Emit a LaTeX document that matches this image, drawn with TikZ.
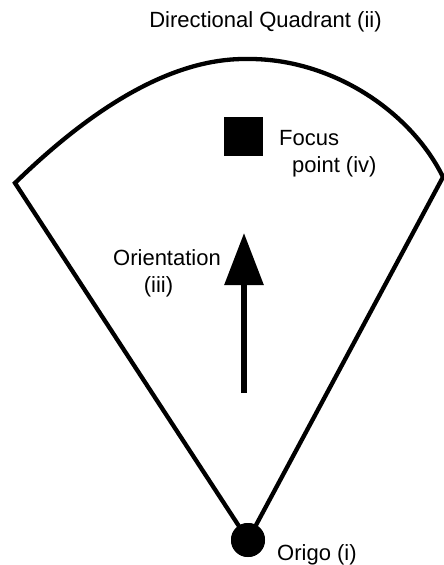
\documentclass[tikz,border=0pt]{standalone}
\usepackage{fontspec}
\setmainfont{Liberation Sans}
\usetikzlibrary{arrows.meta}
\begin{document}
\begin{tikzpicture}[x=1pt,y=-1pt,
  outline/.style={line width=4.3pt, line join=miter},
  lbl/.style={font=\fontsize{22}{26}\selectfont, inner sep=0pt},
  dot/.style={circle, fill=black, minimum size=34pt, inner sep=0pt},
  sq/.style={rectangle, fill=black, minimum size=39pt, inner sep=0pt}]
\useasboundingbox (0,0) rectangle (444,565);
% sector
\coordinate (L) at (15,183);
\coordinate (T) at (247,59);
\coordinate (R) at (443,177);
\node[dot] (origo) at (248,540) {};
\draw[outline] (origo.center) -- (L)
  .. controls (90,110) and (170,58) .. (T)
  .. controls (330,58) and (410,110) .. (R)
  -- (origo.center);
\node[dot] at (248,540) {};
% focus point
\node[sq] (focus) at (243.5,136.5) {};
% orientation arrow
\coordinate (tail) at (244,393);
\coordinate (tip) at (244,233);
\draw[line width=6pt, -{Triangle[length=52pt,width=38pt]}] (tail) -- (tip);
% labels
\node[lbl, anchor=base] (title) at (265.5,27) {Directional Quadrant (ii)};
\node[lbl, anchor=base west] (focA) at (279,145) {Focus};
\node[lbl, anchor=base west] (focB) at (292,172.5) {point (iv)};
\node[lbl, anchor=base] (oriA) at (167,265.5) {Orientation};
\node[lbl, anchor=base] (oriB) at (158.5,292) {(iii)};
\node[lbl, anchor=base west] (origoLbl) at (277,560) {Origo (i)};
\end{tikzpicture}
\end{document}
